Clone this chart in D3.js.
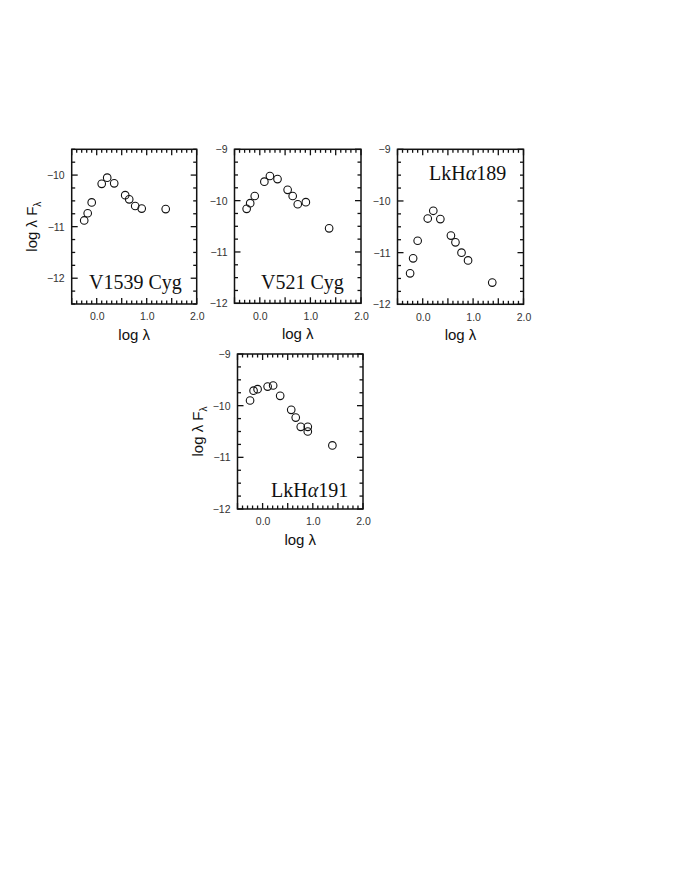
<!DOCTYPE html>
<html>
<head>
<meta charset="utf-8">
<script src="https://cdn.jsdelivr.net/npm/d3@7"></script>
<style>
  body { margin: 0; background: #fff; }
  svg { display: block; }
</style>
</head>
<body>
<svg id="chart" width="676" height="874"></svg>
<script>
// log lambda (micron) for each photometric point
const lamV1539 = [-0.25, -0.18, -0.10, 0.10, 0.21, 0.35, 0.57, 0.65, 0.77, 0.90, 1.38];
const fluxV1539 = [-10.88, -10.74, -10.53, -10.17, -10.05, -10.16, -10.39, -10.47, -10.60, -10.65, -10.66];

const lamV521 = [-0.26, -0.19, -0.10, 0.09, 0.20, 0.35, 0.55, 0.65, 0.75, 0.91, 1.37];
const fluxV521 = [-10.16, -10.05, -9.91, -9.63, -9.52, -9.58, -9.79, -9.91, -10.07, -10.03, -10.54];

const lamLk189 = [-0.25, -0.19, -0.10, 0.10, 0.21, 0.35, 0.56, 0.65, 0.77, 0.90, 1.38];
const fluxLk189 = [-11.40, -11.11, -10.77, -10.34, -10.19, -10.35, -10.67, -10.80, -11.00, -11.15, -11.58];

const lamLk191 = [-0.25, -0.18, -0.10, 0.10, 0.21, 0.35, 0.57, 0.66, 0.76, 0.90, 0.90, 1.39];
const fluxLk191 = [-9.90, -9.71, -9.68, -9.63, -9.61, -9.81, -10.08, -10.23, -10.41, -10.41, -10.50, -10.77];

const xDomain = [-0.5, 2.0];
const xLabels = [0, 1, 2];

const panels = [
    { name: "V1539 Cyg", lam: lamV1539, flux: fluxV1539, yDomain: [-12.5, -9.5], yLabels: [-10, -11, -12],
      left: 71.7, top: 149.3, w: 125, h: 154.7, yTitle: true, star: { x: 89, y: 289 } },
    { name: "V521 Cyg", lam: lamV521, flux: fluxV521, yDomain: [-12, -9], yLabels: [-9, -10, -11, -12],
      left: 234.5, top: 149.3, w: 126.5, h: 154, yTitle: false, star: { x: 261, y: 289 } },
    { name: "LkH\u03b1189", lam: lamLk189, flux: fluxLk189, yDomain: [-12, -9], yLabels: [-9, -10, -11, -12],
      left: 397.5, top: 149.3, w: 126, h: 155, yTitle: false, star: { x: 429, y: 180 } },
    { name: "LkH\u03b1191", lam: lamLk191, flux: fluxLk191, yDomain: [-12, -9], yLabels: [-9, -10, -11, -12],
      left: 237.5, top: 354, w: 125.5, h: 155, yTitle: true, star: { x: 271, y: 497 } }
];

const svg = d3.select("#chart");
const tickFont = "'Liberation Sans', Arial, sans-serif";
const ink = "#111";

function range(a, b, step) {
    // evenly stepped values, rounded to avoid float noise
    let out = [];
    for (let v = a; v <= b + 1e-9; v += step) out.push(Math.round(v * 100) / 100);
    return out;
}

panels.forEach(p => {
    const g = svg.append("g").attr("transform", `translate(${p.left},${p.top})`);

    const x = d3.scaleLinear().domain(xDomain).range([0, p.w]);
    const y = d3.scaleLinear().domain(p.yDomain).range([p.h, 0]);

    const xTicks = range(xDomain[0], xDomain[1], 0.1).map(v => ({ v: v, major: Math.abs(v * 2 - Math.round(v * 2)) < 1e-6 }));
    const yTicks = range(p.yDomain[0], p.yDomain[1], 0.25).map(v => ({ v: v, major: Number.isInteger(v) }));

    // tick labels via d3 axes (tick lines drawn by hand below)
    g.append("g")
        .attr("transform", `translate(0,${p.h})`)
        .call(d3.axisBottom(x).tickValues(xLabels).tickSize(0).tickPadding(9).tickFormat(d3.format(".1f")))
        .call(a => a.select(".domain").remove());
    g.append("g")
        .call(d3.axisLeft(y).tickValues(p.yLabels).tickSize(0).tickPadding(7).tickFormat(d3.format("d")))
        .call(a => a.select(".domain").remove());
    g.selectAll(".tick text")
        .attr("font-family", tickFont)
        .attr("font-size", 10.5)
        .attr("fill", "#333");

    // inward ticks on all four sides
    const tl = d => d.major ? 6 : 3.5;
    const tickG = g.append("g").attr("stroke", ink).attr("stroke-width", 1.3);
    tickG.selectAll("line.xb").data(xTicks).enter().append("line")
        .attr("x1", d => x(d.v)).attr("x2", d => x(d.v))
        .attr("y1", p.h).attr("y2", d => p.h - tl(d));
    tickG.selectAll("line.xt").data(xTicks).enter().append("line")
        .attr("x1", d => x(d.v)).attr("x2", d => x(d.v))
        .attr("y1", 0).attr("y2", d => tl(d));
    tickG.selectAll("line.yl").data(yTicks).enter().append("line")
        .attr("y1", d => y(d.v)).attr("y2", d => y(d.v))
        .attr("x1", 0).attr("x2", d => tl(d));
    tickG.selectAll("line.yr").data(yTicks).enter().append("line")
        .attr("y1", d => y(d.v)).attr("y2", d => y(d.v))
        .attr("x1", p.w).attr("x2", d => p.w - tl(d));

    // frame
    g.append("rect")
        .attr("width", p.w)
        .attr("height", p.h)
        .attr("fill", "none")
        .attr("stroke", ink)
        .attr("stroke-width", 1.5);

    // data points
    g.selectAll("circle.pt")
        .data(p.lam.map((l, i) => ({ l: l, f: p.flux[i] })))
        .enter().append("circle")
        .attr("class", "pt")
        .attr("cx", d => x(d.l))
        .attr("cy", d => y(d.f))
        .attr("r", 3.8)
        .attr("fill", "none")
        .attr("stroke", ink)
        .attr("stroke-width", 1.1);

    // star name
    const label = svg.append("text")
        .attr("x", p.star.x)
        .attr("y", p.star.y)
        .attr("font-family", "'Liberation Serif', 'Times New Roman', serif")
        .attr("font-size", 20)
        .attr("fill", ink);
    if (p.name.startsWith("LkH")) {
        label.append("tspan").text("LkH");
        label.append("tspan").attr("font-style", "italic").text("\u03b1");
        label.append("tspan").text(p.name.slice(4));
    } else {
        label.text(p.name);
    }

    // x title
    g.append("text")
        .attr("x", p.w / 2)
        .attr("y", p.h + 36)
        .attr("text-anchor", "middle")
        .attr("font-family", tickFont)
        .attr("font-size", 15)
        .attr("fill", ink)
        .text("log \u03bb");

    if (p.yTitle) {
        const t = g.append("text")
            .attr("transform", `translate(-35,${p.h / 2}) rotate(-90)`)
            .attr("text-anchor", "middle")
            .attr("font-family", tickFont)
            .attr("font-size", 15)
            .attr("fill", ink);
        t.append("tspan").text("log \u03bb F");
        t.append("tspan").attr("font-size", 10).attr("dy", 4).text("\u03bb");
    }
});
</script>
</body>
</html>
